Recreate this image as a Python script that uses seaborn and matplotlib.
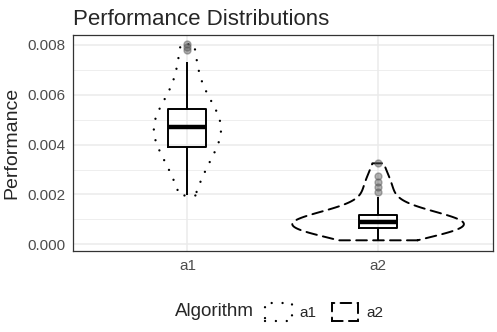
import pandas as pd
import matplotlib.pyplot as plt
import seaborn as sns
from matplotlib.patches import Patch

# === Data ===
algorithms = ["a1", "a2"]
a1_perf = [0.00196, 0.00225, 0.00255, 0.00280, 0.00300, 0.00320, 0.00335, 0.00350,
           0.00365, 0.00375, 0.00388, 0.00395, 0.00405, 0.00415, 0.00425, 0.00435,
           0.00445, 0.00452, 0.00458, 0.00464, 0.00468, 0.00472, 0.00478, 0.00484,
           0.00490, 0.00496, 0.00503, 0.00510, 0.00518, 0.00526, 0.00536, 0.00548,
           0.00562, 0.00580, 0.00600, 0.00625, 0.00655, 0.00690, 0.00730, 0.00780,
           0.00792, 0.00803]
a2_perf = [0.00016, 0.00028, 0.00038, 0.00045, 0.00050, 0.00054, 0.00057, 0.00060,
           0.00062, 0.00063, 0.00065, 0.00067, 0.00069, 0.00071, 0.00073, 0.00075,
           0.00078, 0.00081, 0.00084, 0.00087, 0.00089, 0.00092, 0.00095, 0.00098,
           0.00101, 0.00104, 0.00107, 0.00110, 0.00113, 0.00115, 0.00120, 0.00128,
           0.00140, 0.00160, 0.00190, 0.00210, 0.00230, 0.00250, 0.00275, 0.00325]
line_styles = [(0, (0.01, 4.6)), (0, (5.5, 3.2))]
line_widths = [1.7, 1.4]

df = pd.DataFrame({
    "Algorithm": ["a1"] * len(a1_perf) + ["a2"] * len(a2_perf),
    "Performance": a1_perf + a2_perf,
})

# === Style (ggplot theme_bw look) ===
sns.set_style("white")
plt.rcParams.update({
    "font.family": ["Liberation Sans", "DejaVu Sans"],
    "axes.edgecolor": "#333333",
    "axes.linewidth": 0.9,
    "xtick.color": "#333333",
    "ytick.color": "#333333",
    "xtick.labelcolor": "#4D4D4D",
    "ytick.labelcolor": "#4D4D4D",
})

fig, ax = plt.subplots(figsize=(4.97, 3.32), dpi=100)
fig.subplots_adjust(left=73 / 497, right=492.5 / 497, top=1 - 34.7 / 332, bottom=1 - 251 / 332)

# violins
n0 = len(ax.collections)
sns.violinplot(data=df, x="Algorithm", y="Performance", order=algorithms,
               fill=False, inner=None, cut=0, density_norm="area", width=0.9,
               color="black", linewidth=1.3, bw_adjust=1.3, ax=ax)
for coll, ls, lw in zip(ax.collections[n0:], line_styles, line_widths):
    coll.set_linestyle(ls)
    coll.set_linewidth(lw)
    coll.set_capstyle("round")
    coll.set_edgecolor("black")

# boxplots
sns.boxplot(data=df, x="Algorithm", y="Performance", order=algorithms,
            width=0.2, fill=False, color="black", linewidth=1.4, showcaps=False,
            medianprops=dict(linewidth=3.2, color="black"),
            whiskerprops=dict(color="black"), boxprops=dict(color="black"),
            flierprops=dict(marker="o", markersize=5, markerfacecolor="#555555",
                            markeredgecolor="#555555", alpha=0.45),
            ax=ax)

# axes
ax.set_xlim(-0.6, 1.6)
ax.set_ylim(-0.000269, 0.008413)
ax.set_yticks([0.000, 0.002, 0.004, 0.006, 0.008])
ax.set_yticklabels(["0.000", "0.002", "0.004", "0.006", "0.008"])
ax.set_yticks([0.001, 0.003, 0.005, 0.007], minor=True)
ax.grid(True, which="major", color="#EBEBEB", linewidth=1.1)
ax.grid(True, which="minor", axis="y", color="#EBEBEB", linewidth=0.6)
ax.set_axisbelow(True)
ax.tick_params(axis="both", which="major", length=3.5, width=0.9, labelsize=11, pad=2)
ax.tick_params(axis="y", which="minor", length=0)
ax.set_xlabel("")
ax.set_ylabel("Performance", fontsize=14, labelpad=5)
for s in ax.spines.values():
    s.set_visible(True)
    s.set_color("#333333")

ax.set_title("Performance Distributions", loc="left", fontsize=16, pad=7, x=0.0)

# legend at the bottom
fig.text(175 / 497, 1 - 312 / 332, "Algorithm", fontsize=13.5, va="center", ha="left")
handles = [Patch(facecolor="none", edgecolor="black", linestyle=ls, linewidth=lw)
           for ls, lw in zip(line_styles, line_widths)]
leg = fig.legend(handles, algorithms, loc="center left",
                 bbox_to_anchor=(265 / 497, 1 - 312 / 332),
                 ncol=2, frameon=False, fontsize=11, handlelength=1.75, handleheight=1.45,
                 handletextpad=0.5, columnspacing=1.0, borderpad=0, borderaxespad=0)
for p in leg.get_patches():
    p.set_capstyle("round")

plt.savefig("out.png", dpi=100)
plt.close()
